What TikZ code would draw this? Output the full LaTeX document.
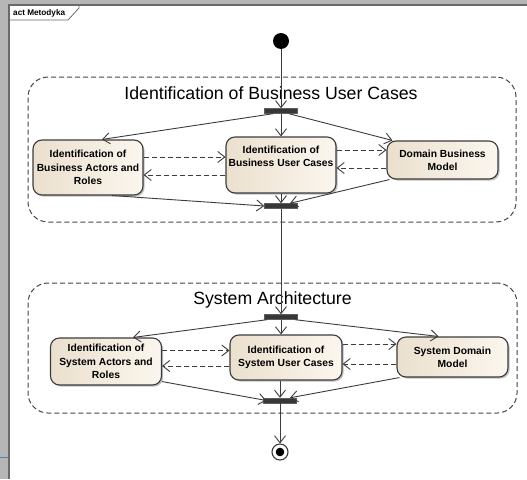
\documentclass[tikz,border=0pt]{standalone}
\usepackage{fontspec}
\setmainfont{Liberation Sans}
\usetikzlibrary{arrows.meta,calc,shadows}
\definecolor{bgray}{RGB}{182,182,182}
\definecolor{fr}{RGB}{105,105,105}
\definecolor{ln}{RGB}{60,60,60}
\definecolor{boxL}{RGB}{235,224,206}
\definecolor{boxR}{RGB}{251,246,238}
\definecolor{grp}{RGB}{70,70,70}
\definecolor{barc}{RGB}{55,55,55}
\definecolor{tick}{RGB}{70,130,200}
\begin{document}
\begin{tikzpicture}[x=1pt,y=-1pt,
  act/.style={draw=ln, line width=1.1pt, rounded corners=9pt, left color=boxL, right color=boxR,
    align=center, font=\bfseries\fontsize{10.3}{13.3}\selectfont, inner sep=0pt,
    drop shadow={shadow xshift=1.6pt,shadow yshift=-1.6pt,fill=black!45,opacity=0.55}},
  bar/.style={fill=barc, draw=barc!80, line width=0.4pt, minimum width=33pt, minimum height=5pt, inner sep=0pt},
  grpbox/.style={draw=grp, line width=1pt, rounded corners=20pt, dash pattern=on 5pt off 3pt, inner sep=0pt},
  gtitle/.style={font=\fontsize{17.7}{20}\selectfont, inner sep=0pt},
  flow/.style={draw=ln, line width=0.9pt, -{Straight Barb[length=7pt,width=11pt]}},
  dflow/.style={flow, dash pattern=on 5pt off 3pt}
]
\useasboundingbox (0,0) rectangle (527,479);
% frame
\fill[bgray] (0,0) rectangle (527,479);
\fill[white] (9,5) rectangle (527,479);
\draw[fr, line width=1.3pt] (9,479) -- (9,5) -- (527,5);
\draw[tick, line width=1pt] (0,457.5) -- (8,457.5);
\draw[fr, line width=0.8pt] (9,20) -- (68,20) -- (79,8) -- (79,5);
\node[anchor=west, inner sep=0pt, font=\bfseries\fontsize{8.2}{9}\selectfont] (tab) at (13,13) {act Metodyka};

% groups
\node[grpbox, minimum width=488, minimum height=145] (g1) at (272,149.5) {};
\node[gtitle] (t1) at (271,93) {Identification of Business User Cases};
\node[grpbox, minimum width=489, minimum height=130] (g2) at (272.5,348) {};
\node[gtitle] (t2) at (272.5,300) {System Architecture};

% nodes
\node[circle, fill=black, minimum size=16pt, inner sep=0pt] (start) at (281,41) {};
\node[bar] (fork1) at (281,111) {};
\node[act, minimum width=110, minimum height=55] (a1) at (88,167.5) {Identification of\\Business Actors and\\Roles};
\node[act, minimum width=110, minimum height=56, text depth=17pt] (b1) at (281,165) {Identification of\\Business User Cases};
\node[act, minimum width=111, minimum height=38] (c1) at (442.5,160) {Domain Business\\Model};
\node[bar] (join1) at (281,206) {};

\node[bar] (fork2) at (281,317) {};
\node[act, minimum width=111, minimum height=47] (a2) at (106,361.5) {Identification of\\System Actors and\\Roles};
\node[act, minimum width=112, minimum height=45] (b2) at (286,357.5) {Identification of\\System User Cases};
\node[act, minimum width=111, minimum height=40] (c2) at (452.5,357) {System Domain\\Model};
\node[bar] (join2) at (280,400.5) {};
\node[circle, draw=ln, line width=1.1pt, fill=white, minimum size=16pt, inner sep=0pt] (end) at (280,452) {};
\fill[black] (end.center) circle (4.3);

% group 1 connectors
\draw[flow] (start) -- (fork1.north);
\draw[flow] ($(fork1.south)+(-8,0)$) -- ($(a1.north)+(14,0)$);
\draw[flow] (fork1.south) -- (b1.north);
\draw[flow] ($(fork1.south)+(8,0)$) -- ($(c1.north west)+(6,0)$);
\coordinate (p1) at ($(a1.east)+(0,-10.5)$);
\draw[dflow] (p1) -- (p1 -| b1.west);
\coordinate (p2) at ($(b1.west)+(0,10)$);
\draw[dflow] (p2) -- (p2 -| a1.east);
\coordinate (p3) at ($(b1.east)+(0,-15)$);
\draw[dflow] (p3) -- (p3 -| c1.west);
\coordinate (p4) at ($(c1.west)+(0,8)$);
\draw[dflow] (p4) -- (p4 -| b1.east);
\draw[flow] ($(a1.south)+(24,0)$) -- (join1.west);
\draw[flow] (b1.south) -- (join1.north);
\draw[flow] ($(c1.south west)+(3,0)$) -- ($(join1.north)+(9,0)$);
\draw[flow] (join1.south) -- (fork2.north);

% group 2 connectors
\draw[flow] ($(fork2.south)+(-14,0)$) -- ($(a2.north)+(27,0)$);
\draw[flow] (fork2.south) -- (fork2.south |- b2.north);
\draw[flow] ($(fork2.south)+(14,0)$) -- ($(c2.north)+(-14,0)$);
\coordinate (p5) at ($(a2.east)+(0,-11)$);
\draw[dflow] (p5) -- (p5 -| b2.west);
\coordinate (p6) at ($(b2.west)+(0,8.5)$);
\draw[dflow] (p6) -- (p6 -| a2.east);
\coordinate (p7) at ($(b2.east)+(0,-13.5)$);
\draw[dflow] (p7) -- (p7 -| c2.west);
\coordinate (p8) at ($(c2.west)+(0,7)$);
\draw[dflow] (p8) -- (p8 -| b2.east);
\draw[flow] ($(a2.south east)+(0,-4)$) -- ($(join2.west)+(3,0)$);
\draw[flow] (join2.north |- b2.south) -- (join2.north);
\draw[flow] ($(c2.south west)+(3,0)$) -- ($(join2.north)+(10,0)$);
\draw[flow] (join2.south) -- (end.north);
\end{tikzpicture}
\end{document}
